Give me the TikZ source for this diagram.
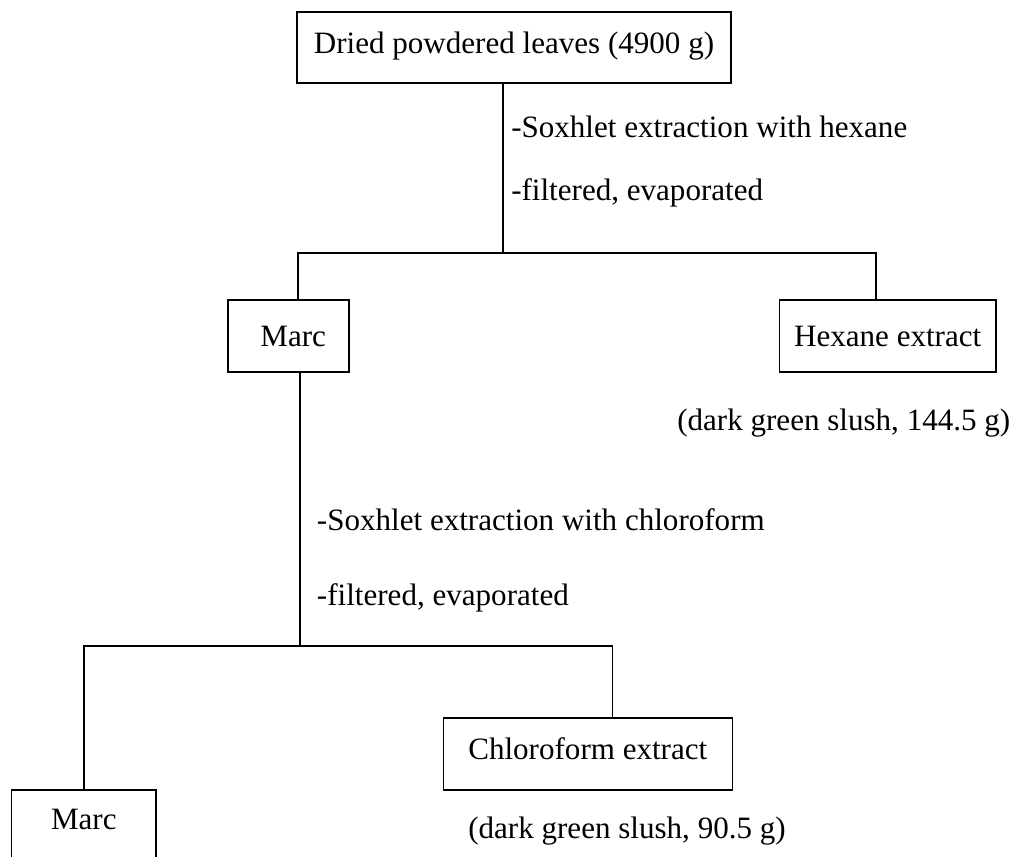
\documentclass[tikz,border=0pt]{standalone}
\usepackage{fontspec}
\setmainfont{Liberation Serif}
\begin{document}
\begin{tikzpicture}[x=0.75pt,y=-0.75pt,
  every node/.style={font=\fontsize{23.3}{28}\selectfont},
  box/.style={draw,line width=1.2pt,rectangle,inner sep=0pt,text height=16pt},
  conn/.style={line width=1.2pt},
  note/.style={inner sep=0pt,anchor=base west}]
\clip (0,0) rectangle (1022,857);
% boxes
\node[box,minimum width=325.5pt,minimum height=53.25pt,text depth=7.4pt] (top) at (514,47.5) {Dried powdered leaves (4900 g)};
\node[box,minimum width=90.75pt,minimum height=54pt,text depth=0pt] (marc1) at (288.2,336) {\hspace*{7.5pt}Marc};
\node[box,minimum width=162.5pt,minimum height=54.2pt,text depth=0pt] (hexane) at (887.7,336.1) {Hexane extract};
\node[box,minimum width=216.75pt,minimum height=54pt,text depth=8.5pt] (chloro) at (587.8,754) {Chloroform extract};
\node[box,minimum width=108.2pt,minimum height=54pt,text depth=10.1pt] (marc2) at (83.8,826) {Marc};
% junction coordinates
\coordinate (j1) at (502.7,253);
\coordinate (hL) at (297.7,253);
\coordinate (hR) at (875.7,253);
\coordinate (j2) at (300,646);
\coordinate (lL) at (84,646);
\coordinate (lR) at (612.3,646);
% connectors
\draw[conn] (top.south -| j1) -- (j1);
\draw[conn] (marc1.north -| hL) -- (hL) -- (hR) -- (hexane.north -| hR);
\draw[conn] (marc1.south -| j2) -- (j2);
\draw[conn] (marc2.north -| lL) -- (lL) -- (lR) -- (chloro.north -| lR);
% notes
\node[note] (n1) at (511,137) {-Soxhlet extraction with hexane};
\node[note] (n2) at (511,200) {-filtered, evaporated};
\node[note] (n3) at (677,430) {(dark green slush, 144.5 g)};
\node[note] (n4) at (316.7,530.7) {-Soxhlet extraction with chloroform};
\node[note] (n5) at (316.7,605) {-filtered, evaporated};
\node[note] (n6) at (468,838.3) {(dark green slush, 90.5 g)};
\end{tikzpicture}
\end{document}
